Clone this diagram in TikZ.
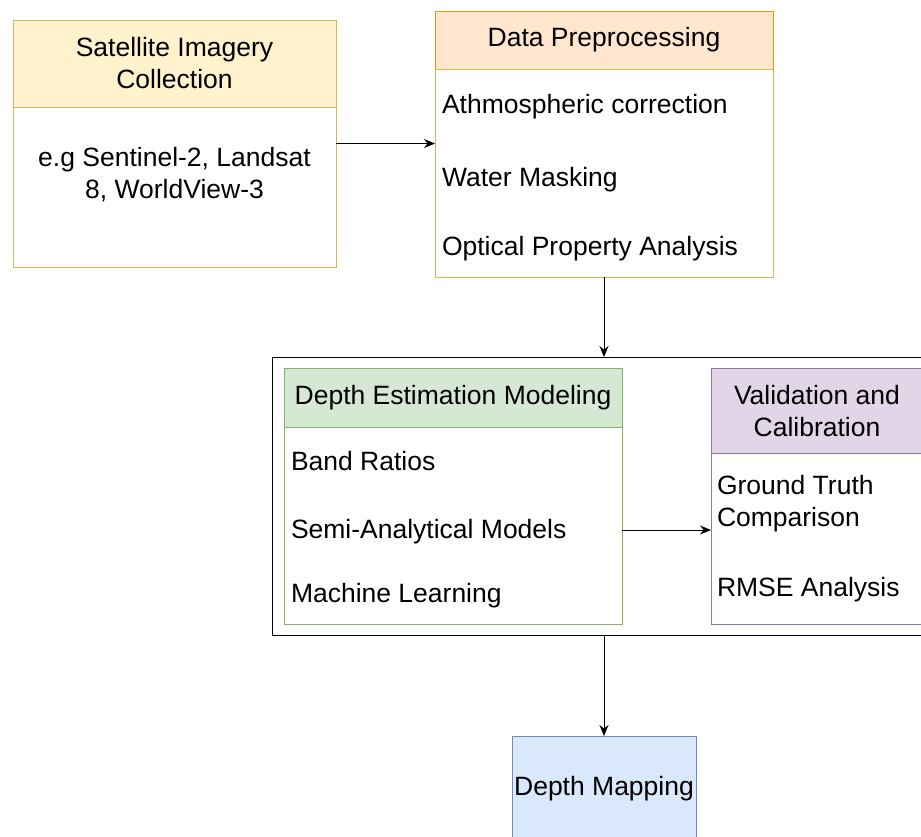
\documentclass[tikz,border=0pt]{standalone}
\usepackage{fontspec}
\setmainfont{Liberation Sans}
\usetikzlibrary{arrows.meta}
\definecolor{satfill}{HTML}{FFF2CC}
\definecolor{satline}{HTML}{D6B656}
\definecolor{prepfill}{HTML}{FFE6CC}
\definecolor{prepline}{HTML}{D79B00}
\definecolor{grnfill}{HTML}{D5E8D4}
\definecolor{grnline}{HTML}{82B366}
\definecolor{purfill}{HTML}{E1D5E7}
\definecolor{purline}{HTML}{9673A6}
\definecolor{blufill}{HTML}{DAE8FC}
\definecolor{bluline}{HTML}{6C8EBF}
\begin{document}
\begin{tikzpicture}[x=1pt,y=-1pt,
  box/.style={draw, line width=1pt, inner sep=0pt, outer sep=0pt},
  txt/.style={inner sep=0pt, outer sep=0pt, font=\fontsize{26.5pt}{32pt}\selectfont},
  item/.style={txt, anchor=base west},
  arr/.style={draw=black, line width=1pt, -{Stealth[length=11pt,width=9pt]}}]
\useasboundingbox (0,0) rectangle (921,836);
\fill[white] (0,0) rectangle (921,836);
\clip (0,0) rectangle (921,836);

% Satellite Imagery Collection
\node[box, draw=satline, fill=satfill, minimum width=323pt, minimum height=87pt] (sathead) at (174.5,63.5) {};
\node[box, draw=satline, minimum width=323pt, minimum height=247pt] (sat) at (174.5,143.5) {};
\node[txt, align=center] (sattitle) at (174.5,63.4) {Satellite Imagery\\Collection};
\node[txt, align=center] (satbody) at (174.5,174.7) {e.g Sentinel-2, Landsat\\8, WorldView-3};

% Data Preprocessing
\node[box, draw=satline, minimum width=338pt, minimum height=266pt] (prep) at (604,144) {};
\node[box, draw=prepline, fill=prepfill, minimum width=338pt, minimum height=58pt] (prephead) at (604,40) {};
\draw[satline, line width=1pt] (prephead.south west) -- (prephead.south east);
\node[txt] (preptitle) at (604,40) {Data Preprocessing};
\node[item] (prep1) at (442,113.3) {Athmospheric correction};
\node[item] (prep2) at (442,186) {Water Masking};
\node[item] (prep3) at (442,255) {Optical Property Analysis};

% Container
\node[draw=black, line width=1pt, inner sep=0pt, outer sep=0pt, minimum width=664pt, minimum height=278pt] (cont) at (604,496) {};

% Depth Estimation Modeling
\node[box, draw=grnline, fill=grnfill, minimum width=338pt, minimum height=59pt] (greenhead) at (453,397.5) {};
\node[box, draw=grnline, minimum width=338pt, minimum height=256pt] (green) at (453,496) {};
\node[txt] (greentitle) at (453,397.5) {Depth Estimation Modeling};
\node[item] (green1) at (291,470) {Band Ratios};
\node[item] (green2) at (291,538) {Semi-Analytical Models};
\node[item] (green3) at (291,602) {Machine Learning};

% Validation and Calibration
\node[box, draw=purline, fill=purfill, minimum width=212pt, minimum height=85pt] (purplehead) at (817,410.5) {};
\node[box, draw=purline, minimum width=212pt, minimum height=256pt] (purple) at (817,496) {};
\node[txt, align=center] (purpletitle) at (817,410.9) {Validation and\\Calibration};
\node[txt, align=left, anchor=west] (purple1) at (717,503.7) {Ground Truth\\Comparison};
\node[item] (purple2) at (717,596) {RMSE Analysis};

% Depth Mapping
\node[box, draw=bluline, fill=blufill, minimum width=184pt, minimum height=104pt] (map) at (604,788) {};
\node[txt] (maptitle) at (604,789) {Depth Mapping};

% Connectors
\draw[arr] (sat.east) -- (sat.east -| prep.west);
\draw[arr] (prep.south) -- (cont.north);
\draw[arr] ([yshift=-34pt]green.east) -- ([yshift=-34pt]green.east -| purple.west);
\draw[arr] (cont.south) -- (map.north);
\end{tikzpicture}
\end{document}
